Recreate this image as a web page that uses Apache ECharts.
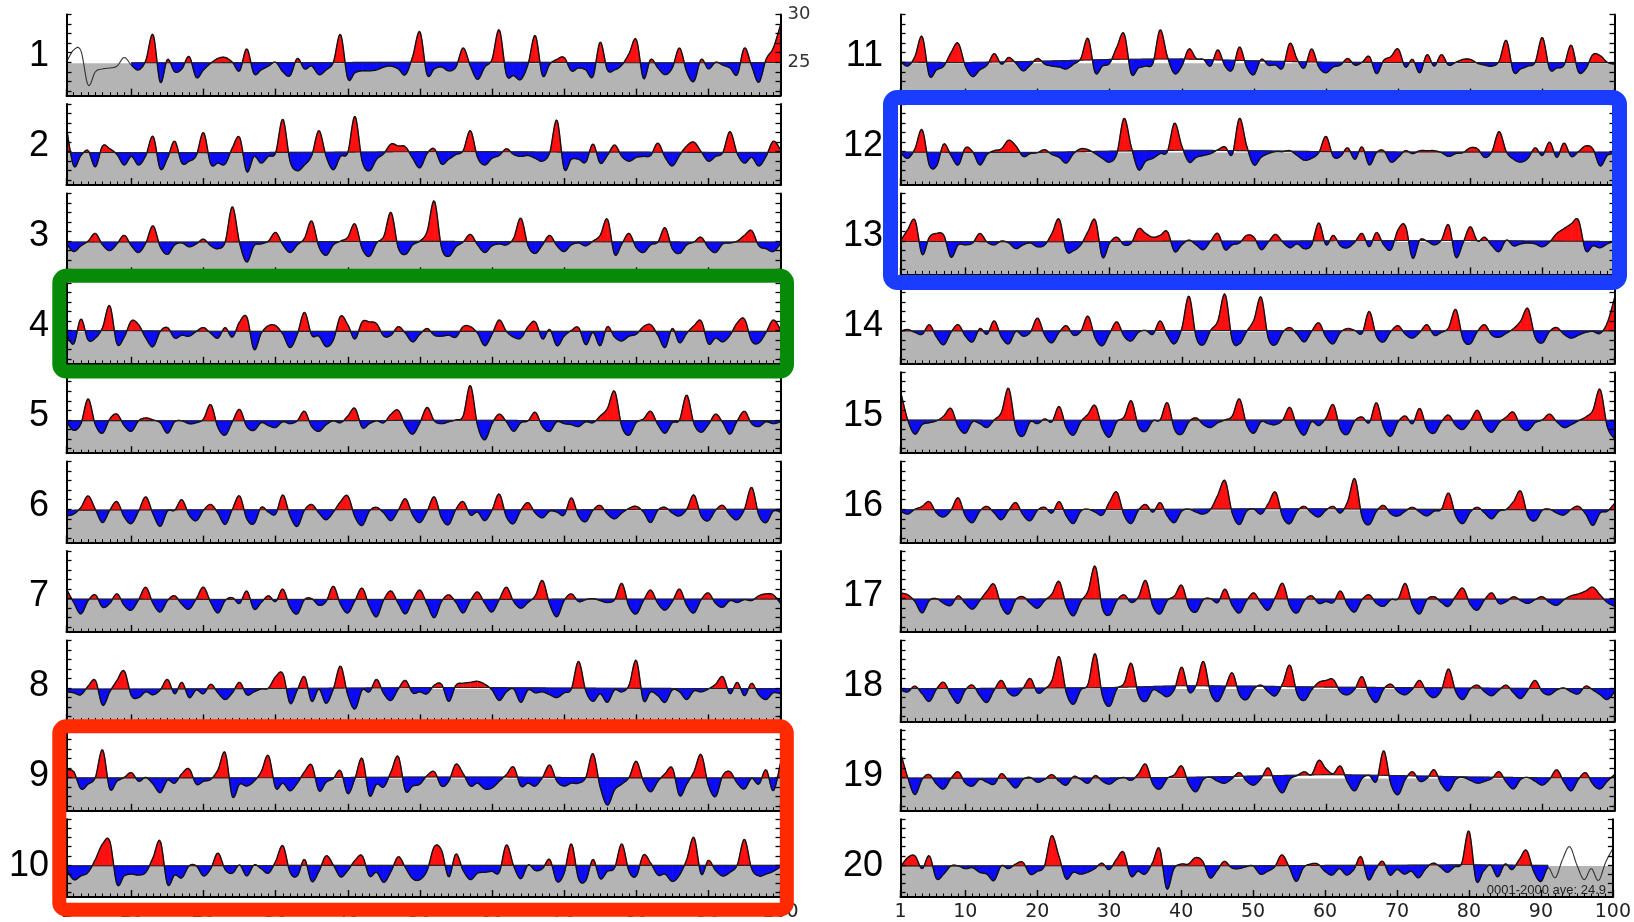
<!DOCTYPE html>
<html><head><meta charset="utf-8">
<script src="https://cdn.jsdelivr.net/npm/echarts@6/dist/echarts.min.js"></script>
<style>html,body{margin:0;padding:0;background:#fff}#c{width:1634px;height:922px}</style>
</head><body><div id="c"></div>
<script>
// ---------------- data ----------------
const YEARS = [1,2,3,4,5,6,7,8,9,10,11,12,13,14,15,16,17,18,19,20,21,22,23,24,25,26,27,28,29,30,31,32,33,34,35,36,37,38,39,40,41,42,43,44,45,46,47,48,49,50,51,52,53,54,55,56,57,58,59,60,61,62,63,64,65,66,67,68,69,70,71,72,73,74,75,76,77,78,79,80,81,82,83,84,85,86,87,88,89,90,91,92,93,94,95,96,97,98,99,100];
const X_TICK_MAJOR = [1,10,20,30,40,50,60,70,80,90,100];
const X_LABELS = [1,10,20,30,40,50,60,70,80,90,100];
const Y_TICKS = [22,23,24,25,26,27,28,29,30];
const Y_LABELS_P1 = [25,30];
const BASE_X = [1,10,20,30,40,50,60,70,80,90,100];
const GRAY_LEVEL = 24.9;
const AVE_TEXT = '0001-2000 ave: 24.9';
const PANEL_NAMES = ['1','2','3','4','5','6','7','8','9','10','11','12','13','14','15','16','17','18','19','20'];
const FILL_FROM = [10,1,1,1,1,1,1,1,1,1,1,1,1,1,1,1,1,1,1,1];
const FILL_TO   = [100,100,100,100,100,100,100,100,100,100,100,100,100,100,100,100,100,100,100,91];

const P1 = [25.0,26.3,26.2,22.6,24.0,24.3,24.4,24.6,25.5,24.7, 24.2,25.2,27.9,22.9,25.3,24.0,24.3,25.6,23.4,24.2, 24.9,25.4,25.5,25.0,24.1,26.4,23.8,24.2,24.6,25.0, 24.0,23.6,25.4,24.3,24.6,23.7,24.2,25.0,27.9,23.3, 23.9,24.1,24.1,24.2,24.5,24.6,24.3,23.7,25.6,28.2, 23.7,24.3,24.5,24.1,24.5,26.5,24.6,23.2,24.5,25.3, 28.4,23.7,23.6,23.2,24.8,27.8,23.6,24.8,25.3,25.5, 24.1,24.4,24.2,23.5,27.1,24.2,24.2,24.7,25.9,27.4, 23.3,25.3,24.4,23.7,24.4,26.5,24.0,23.0,25.3,24.3, 25.0,24.7,24.4,23.7,26.5,24.6,22.9,25.3,26.5,28.9];
const P2 = [27.5,23.5,24.6,25.1,23.4,25.6,25.3,24.7,23.6,24.5, 23.6,24.6,26.6,23.2,24.3,26.1,23.8,24.0,24.6,27.0, 23.7,23.8,23.7,25.4,26.5,22.9,24.5,23.8,24.5,24.9, 28.4,24.0,23.0,23.6,24.6,27.2,24.5,23.1,24.5,24.9, 28.7,24.0,23.0,24.2,24.8,25.8,25.6,25.5,24.3,23.3, 24.8,25.3,23.7,24.2,24.7,25.1,27.2,24.4,23.6,24.3, 24.6,25.3,24.7,24.5,24.6,24.3,24.0,24.9,28.3,23.2, 24.2,24.2,23.9,25.8,23.8,24.6,25.7,24.5,24.0,24.4, 24.5,24.6,25.9,24.4,23.5,24.6,25.6,26.0,25.0,24.0, 24.5,24.9,27.1,24.8,23.8,24.4,23.5,24.5,26.1,25.2];
const P3 = [24.7,23.9,24.5,25.0,25.8,24.6,24.0,24.7,25.6,24.5, 23.8,24.8,26.6,24.4,23.6,24.6,24.8,24.4,24.7,25.2, 24.5,24.2,24.9,28.6,24.8,22.8,24.5,24.7,25.0,25.9, 24.6,23.8,24.6,25.3,27.1,24.4,23.5,24.6,25.0,25.4, 26.8,24.2,23.4,24.8,25.5,28.0,24.3,23.6,24.6,25.0, 26.0,29.2,24.3,23.4,24.4,24.9,25.7,24.6,23.8,24.5, 24.7,24.6,25.3,27.4,24.5,23.7,24.6,25.6,24.5,23.9, 24.6,24.8,24.5,25.0,25.6,27.3,23.6,24.7,25.8,24.3, 23.8,24.6,24.9,26.4,24.2,23.7,24.6,24.9,25.4,24.3, 23.8,24.7,24.8,25.0,25.6,26.1,24.5,24.2,23.9,24.7];
const P4 = [24.6,23.6,26.2,24.0,24.2,25.3,27.6,23.6,24.3,26.0, 25.6,24.2,23.3,24.9,25.3,24.2,24.5,24.4,24.9,25.3, 24.7,24.2,25.3,24.3,25.9,26.4,23.0,24.7,25.5,25.5, 24.6,23.2,24.6,26.9,24.5,24.4,23.3,24.0,26.5,25.6, 24.1,25.9,25.9,25.7,24.4,24.5,25.4,24.7,23.8,24.6, 25.2,24.5,24.4,24.5,24.3,25.4,25.4,24.7,23.4,24.6, 26.1,24.9,24.3,24.2,25.4,25.9,24.1,25.1,23.4,24.4, 25.0,25.3,23.5,24.8,23.4,25.4,24.3,23.9,24.4,24.6, 25.4,25.6,24.5,23.2,25.2,23.7,24.7,25.5,26.0,23.6, 24.2,23.8,24.5,25.8,26.2,23.9,23.7,24.8,26.1,25.1];
const P5 = [24.8,23.9,24.6,27.2,24.5,23.6,25.1,25.6,24.4,23.8, 24.9,25.2,25.0,24.7,23.6,24.8,24.9,24.6,24.7,25.1, 26.6,24.2,23.4,24.8,26.1,24.3,23.9,24.7,24.4,24.2, 24.8,24.6,24.9,25.9,24.3,23.8,24.5,24.9,24.7,25.4, 26.2,24.2,24.6,24.9,24.7,25.6,26.0,24.4,23.5,24.7, 26.3,24.9,24.6,24.8,25.0,25.4,28.6,24.4,22.9,24.6, 25.6,24.8,23.8,24.7,24.9,25.8,24.3,23.8,24.8,24.6, 24.5,24.3,24.8,24.7,25.4,26.2,28.0,24.3,23.4,24.7, 25.1,25.9,24.5,23.6,24.7,25.0,27.6,24.6,23.7,24.5, 25.6,24.7,23.5,24.9,25.9,24.6,24.3,24.8,24.6,24.8];
const P6 = [24.3,24.5,25.2,26.4,25.0,23.6,24.9,25.8,24.2,23.5, 24.8,26.3,24.5,23.2,24.8,24.9,26.0,24.4,23.8,24.9, 25.5,24.6,23.4,25.0,26.4,24.0,23.5,25.2,24.7,24.5, 26.5,24.3,23.2,24.9,25.5,24.6,23.9,24.7,25.8,26.4, 24.2,23.3,24.8,25.2,24.6,23.8,24.9,26.1,24.4,23.6, 24.8,26.3,24.1,23.4,25.0,25.8,24.4,24.7,23.8,24.9, 26.6,24.2,23.5,24.9,25.7,24.6,24.1,24.8,24.7,24.4, 26.2,24.3,23.7,24.9,25.4,24.5,24.0,24.6,25.1,25.3, 24.7,23.6,24.9,25.2,24.6,24.3,25.0,26.5,24.3,23.8, 24.9,25.4,24.4,23.9,25.0,27.3,24.4,23.6,24.8,24.7];
const P7 = [26.0,24.6,23.4,24.8,25.4,24.1,24.5,25.5,24.3,23.8, 24.9,26.2,24.5,23.6,24.8,25.3,24.4,23.9,25.0,26.2, 24.6,23.5,24.8,25.1,24.5,25.8,23.9,24.6,25.3,24.7, 26.0,24.1,23.4,24.9,25.0,24.3,24.7,26.3,24.4,23.5, 24.8,26.1,24.2,23.1,24.9,25.8,24.5,23.4,24.8,25.9, 24.4,23.0,24.7,25.4,24.6,23.5,24.8,25.7,24.5,23.6, 24.9,26.2,24.7,24.0,24.6,25.3,26.9,24.4,23.1,24.8, 25.5,24.7,24.9,25.0,24.8,24.6,24.9,26.6,24.2,23.4, 24.8,25.9,24.5,23.8,24.7,26.0,24.3,23.5,24.9,25.6, 24.5,24.1,24.8,24.6,24.9,24.8,25.3,25.5,25.4,24.5];
const P8 = [24.6,24.5,24.3,25.2,25.8,23.2,24.6,25.8,26.8,24.2, 24.0,24.6,24.3,24.8,25.9,24.4,25.6,24.0,24.8,24.4, 25.4,24.5,23.8,24.5,25.6,24.3,24.6,24.9,25.0,26.2, 26.5,23.4,24.8,26.2,23.6,24.9,23.4,24.9,27.3,24.3, 22.8,24.8,24.6,25.9,24.4,23.7,24.9,25.8,24.5,24.6, 24.4,25.3,25.4,23.6,25.3,25.5,25.6,25.7,25.4,24.8, 23.7,24.6,24.9,23.5,24.8,24.5,24.6,24.3,24.0,24.5, 24.9,27.8,24.7,23.6,24.4,23.5,24.8,24.6,25.3,27.9, 23.7,24.6,24.2,23.5,24.8,24.6,23.8,24.7,24.6,24.9, 25.4,26.2,24.4,25.6,24.2,25.5,24.3,23.8,24.5,24.4];
const P9 = [25.8,25.6,23.8,24.3,25.0,27.9,23.8,24.6,25.0,25.5, 24.6,25.0,24.3,23.4,24.7,24.4,25.4,25.9,24.3,24.6, 24.8,25.8,27.6,23.0,24.3,24.1,24.6,25.6,27.3,23.9, 24.4,23.6,24.4,25.6,26.3,23.6,24.5,24.9,25.7,23.3, 24.9,27.0,23.1,24.3,24.0,25.6,27.2,23.6,24.1,24.3, 25.2,25.6,24.1,24.6,26.4,25.4,24.1,24.4,23.8,23.9, 24.6,25.3,26.1,24.1,24.4,24.1,25.0,26.3,24.6,24.1, 24.4,24.4,25.0,27.5,24.0,22.1,23.7,24.3,25.0,26.7, 24.6,23.5,24.6,25.4,26.0,23.1,24.3,25.6,27.4,24.2, 23.0,25.2,25.6,24.4,23.8,24.9,24.3,25.8,23.6,26.5];
const P10 = [24.5,23.4,23.8,24.2,25.6,27.3,27.6,22.9,23.8,24.0, 23.9,24.2,25.8,27.6,22.9,23.9,23.6,24.9,24.9,23.8, 24.6,26.3,24.5,24.1,25.0,23.8,25.0,24.6,24.1,25.4, 27.1,24.2,23.8,25.6,23.2,24.3,26.0,25.0,23.7,24.4, 25.5,26.0,23.8,24.2,23.1,24.3,25.9,24.7,23.5,23.4, 24.4,27.0,26.6,23.7,26.2,24.4,23.4,24.1,24.2,24.3, 24.2,27.2,24.9,23.5,25.0,24.4,24.6,25.6,23.2,24.1, 27.3,23.5,23.3,25.6,23.5,24.3,24.7,27.3,24.3,23.8, 26.1,25.2,23.9,24.0,23.2,23.9,25.6,28.0,24.0,25.5, 24.4,23.8,24.2,25.0,27.8,24.6,23.8,24.0,24.3,24.8];
const P11 = [25.1,24.6,25.6,27.7,23.6,24.2,24.6,26.0,27.0,24.6, 23.5,24.2,24.7,25.9,24.8,25.5,24.9,24.1,24.7,25.4, 24.8,24.6,24.5,24.3,24.8,25.4,27.5,23.9,24.6,24.9, 26.6,28.0,23.8,24.4,24.6,24.9,28.4,25.6,23.8,24.6, 26.4,25.4,25.3,24.6,26.3,24.6,24.2,26.6,24.5,23.7, 25.3,24.7,24.7,24.4,27.0,25.3,24.4,26.4,24.5,23.9, 24.5,24.7,25.4,24.7,25.0,25.6,23.8,25.2,25.6,26.4, 24.5,25.3,23.9,25.8,24.6,25.8,24.7,25.0,25.3,25.3, 24.9,24.7,24.6,25.1,27.3,24.0,24.3,24.6,25.0,27.6, 24.3,24.4,24.7,26.8,24.0,24.3,25.8,25.7,25.0,24.8];
const P12 = [24.9,24.3,25.3,27.3,23.6,23.5,25.8,24.6,23.6,25.4, 25.0,23.6,24.7,25.1,25.3,26.2,25.6,24.5,24.8,24.9, 25.2,24.7,24.4,23.8,24.8,25.3,25.2,24.8,24.3,23.9, 24.8,28.5,25.5,23.1,24.0,24.3,24.8,25.0,28.0,25.6, 23.9,24.4,24.6,24.8,25.2,25.5,24.7,28.5,25.6,23.6, 24.4,24.8,25.0,25.0,25.1,24.6,24.1,24.3,24.9,26.6, 24.5,24.5,25.4,24.2,25.5,23.6,24.9,25.1,23.9,24.4, 25.1,24.8,25.1,25.1,25.1,24.9,24.5,24.8,24.9,25.4, 25.3,24.4,25.0,27.1,25.0,24.2,23.9,24.3,25.4,24.6, 26.0,24.4,25.9,24.5,25.0,25.6,25.3,23.5,24.6,24.8];
const P13 = [25.0,26.2,27.2,23.6,25.4,25.8,25.6,23.3,24.6,24.6, 24.8,25.8,24.9,24.6,25.0,24.8,24.2,24.6,24.8,24.4, 24.6,25.8,27.3,24.0,24.0,24.6,26.0,27.2,23.3,24.8, 25.4,24.6,24.8,26.3,25.8,25.4,25.6,26.0,23.9,24.6, 25.1,24.6,24.1,25.0,25.8,24.1,24.6,24.8,25.6,25.4, 24.1,24.9,25.7,24.9,24.3,24.7,24.2,24.6,26.9,24.6, 25.6,24.5,24.3,24.9,25.8,24.4,25.9,24.6,24.1,26.2, 26.6,23.2,25.1,25.0,24.6,25.1,26.7,23.3,24.8,26.5, 25.0,25.4,24.5,23.9,25.1,24.5,24.7,24.8,24.7,24.4, 24.9,25.8,26.3,26.8,27.2,24.0,24.5,24.3,24.7,25.0];
const P14 = [24.9,25.1,24.8,24.6,25.6,24.3,23.5,24.8,25.6,24.4, 23.8,25.2,24.6,26.0,24.3,23.6,24.9,24.4,24.8,26.3, 24.5,23.7,24.8,25.5,24.5,24.9,26.5,24.2,23.4,24.7, 25.9,24.4,23.9,24.8,25.0,24.6,26.0,24.5,23.6,25.2, 28.6,24.3,23.5,25.0,26.0,28.8,24.0,23.6,24.9,26.1, 28.5,24.2,23.5,24.8,25.3,24.6,23.8,24.9,25.8,24.3, 23.6,24.8,25.2,25.0,24.7,27.0,24.4,23.8,24.9,25.5, 24.6,24.2,24.8,25.6,24.5,24.8,25.3,27.2,24.1,23.6, 24.9,25.6,24.5,24.3,24.7,25.2,26.0,27.3,24.3,23.7, 24.9,25.3,24.6,24.2,24.5,24.8,24.9,24.7,25.8,28.4];
const P15 = [28.0,25.0,23.5,24.5,24.7,24.9,25.4,26.2,24.3,23.6, 24.8,24.6,24.2,25.0,25.8,28.3,24.1,23.3,24.8,24.6, 25.1,24.8,26.4,24.2,23.4,24.8,25.6,26.5,24.1,23.2, 24.8,25.3,27.0,24.3,23.8,24.9,25.0,26.8,24.0,23.5, 24.8,25.2,24.5,24.2,24.7,25.0,25.4,27.2,24.5,23.6, 24.8,24.6,24.5,25.0,26.3,24.3,23.4,24.8,24.4,25.2, 26.6,24.0,23.5,24.9,25.3,24.7,26.8,24.2,23.3,24.8, 25.4,24.6,26.2,24.1,23.6,24.8,25.5,24.4,24.0,24.9, 26.0,24.4,23.7,24.7,25.3,25.8,24.3,23.9,24.7,25.0, 25.6,24.8,24.2,24.5,24.9,25.3,26.0,28.2,24.3,23.0];
const P16 = [24.8,24.5,25.0,25.3,25.8,24.6,24.2,24.9,26.2,24.3, 23.6,24.8,25.3,24.6,23.9,24.9,25.7,24.4,23.8,24.9, 25.2,24.6,25.8,24.3,23.5,24.8,25.0,24.7,24.4,25.8, 26.8,24.4,23.5,24.9,25.5,24.7,25.7,24.3,23.6,24.8, 25.0,24.7,24.5,25.0,26.5,28.0,24.6,23.4,24.8,25.0, 24.5,25.6,26.8,24.2,23.5,24.8,25.3,24.6,24.2,24.9, 25.3,24.6,25.8,28.2,24.2,23.4,24.8,25.4,24.5,24.3, 24.8,25.2,24.7,24.3,24.8,25.0,26.7,24.3,23.5,24.7, 25.2,24.6,24.0,24.8,25.0,25.8,26.9,24.3,23.8,24.9, 25.0,24.6,24.4,25.0,25.3,24.5,23.3,24.6,24.8,25.6];
const P17 = [25.6,25.4,24.7,23.5,24.8,25.0,24.5,24.3,25.3,24.5, 23.9,24.8,25.8,26.5,24.2,23.4,24.9,25.2,24.5,24.0, 24.8,25.5,26.8,24.3,23.2,24.7,25.8,28.4,24.0,23.3, 24.8,25.4,24.6,25.2,26.9,24.2,23.4,24.8,25.3,26.4, 24.1,23.6,24.9,25.0,24.6,26.0,24.3,23.5,24.8,25.6, 24.5,23.8,25.2,26.6,24.2,23.5,24.8,25.3,24.5,24.7, 24.6,25.8,24.3,23.6,24.9,25.4,24.5,24.2,24.9,25.0, 26.6,24.3,23.4,24.9,25.2,24.6,24.2,25.3,26.1,24.4, 23.8,24.9,25.6,24.5,24.7,25.2,24.8,24.5,24.9,25.2, 24.6,24.3,24.9,25.3,25.5,25.8,26.2,25.4,24.6,24.2];
const P18 = [24.8,24.6,25.2,24.4,23.6,24.9,25.6,24.3,23.4,24.8, 25.3,24.2,23.5,24.8,25.8,24.5,24.2,25.0,26.0,24.5, 24.9,25.8,28.3,24.5,23.3,24.8,25.4,28.6,24.2,23.1, 24.9,25.5,27.6,24.3,23.6,24.8,24.5,24.1,24.9,27.2, 24.6,25.3,27.8,24.5,23.6,25.0,26.6,24.3,23.8,24.9, 25.3,24.6,24.2,25.5,27.4,24.4,23.7,24.8,25.6,25.8, 25.9,24.6,24.3,24.9,26.2,24.3,23.5,24.9,25.4,24.6, 24.3,24.9,25.8,24.5,24.0,24.8,27.0,24.6,23.8,24.9, 25.3,24.6,24.2,24.8,25.3,24.5,23.9,24.8,25.8,24.6, 24.3,24.8,25.0,24.6,24.4,25.2,24.8,24.3,23.8,24.6];
const P19 = [27.6,25.0,23.2,24.8,25.3,24.3,23.8,24.9,25.6,24.4, 24.1,24.8,24.5,24.3,25.4,24.6,23.9,24.8,25.0,24.5, 24.8,25.3,24.6,24.2,25.1,24.8,24.4,25.2,24.6,24.3, 24.8,25.0,24.7,25.4,26.4,24.3,23.8,24.9,25.3,26.2, 24.3,23.5,24.8,25.0,24.6,24.4,24.9,25.5,24.6,24.2, 24.9,26.0,24.3,23.4,24.8,25.2,25.6,25.3,26.8,25.9, 25.4,26.2,24.5,23.6,24.9,25.2,24.6,27.8,24.3,23.2, 24.8,25.6,24.6,24.9,25.8,24.3,23.6,24.8,25.0,24.7, 24.4,24.6,24.9,25.6,24.5,23.8,24.8,25.0,24.6,24.2, 24.8,25.8,24.5,23.6,24.8,25.5,24.3,23.8,24.6,25.3];
const P20 = [24.8,25.8,26.0,24.6,26.0,23.5,24.0,24.9,24.9,24.6, 24.7,24.2,24.0,23.3,24.9,24.6,25.1,25.3,24.0,24.3, 24.9,28.2,26.0,23.5,24.2,24.0,24.2,24.6,25.2,24.5, 25.6,26.4,23.8,24.3,24.0,25.2,26.8,22.4,24.6,25.1, 25.1,25.8,25.4,23.6,24.4,25.4,24.7,24.6,24.8,24.9, 24.0,24.3,24.8,26.1,24.8,23.2,24.7,25.1,25.1,24.3, 23.9,24.6,23.9,24.5,25.9,23.4,24.5,25.4,23.9,24.5, 24.0,24.3,23.6,24.6,25.2,24.8,24.2,24.8,25.2,28.7, 23.3,24.3,25.0,23.7,25.1,24.5,25.6,26.6,24.3,23.2, 24.7,23.6,25.6,27.0,25.0,23.4,24.6,23.3,25.3,26.8];

// baseline (long-term mean) read at BASE_X
const B1  = [24.95,24.95,24.95,24.97,24.98,25.0,25.0,24.98,24.95,24.95,24.97];
const B2  = [24.92,24.9,24.9,24.92,24.95,25.0,25.0,24.95,24.95,24.92,24.92];
const B3  = [24.9,24.9,24.9,24.92,24.95,24.97,24.95,24.92,24.92,24.9,24.9];
const B4  = [25.0,24.97,24.92,24.9,24.9,24.9,24.9,24.9,24.9,24.9,24.9];
const B5  = [24.92,24.92,24.9,24.9,24.92,24.95,24.95,24.92,24.92,24.92,24.92];
const B6  = [24.9,24.92,24.95,24.95,24.95,24.95,24.95,24.95,24.97,25.0,25.0];
const B7  = [24.95,24.95,24.92,24.92,24.92,24.92,24.92,24.95,24.95,24.95,24.95];
const B8  = [24.9,24.9,24.92,24.95,25.0,25.05,25.05,25.0,24.97,24.95,24.95];
const B9  = [24.95,24.95,24.95,24.97,25.0,25.05,25.05,25.0,24.95,24.95,24.95];
const B10 = [24.92,24.92,24.92,24.95,24.95,24.95,24.95,24.95,24.95,24.95,24.95];
const B11 = [25.0,24.97,25.1,25.3,25.35,25.15,25.0,24.97,24.97,24.97,24.97];
const B12 = [24.95,24.92,24.92,25.05,25.15,25.1,25.0,24.97,24.95,24.95,24.95];
const B13 = [24.95,24.95,24.92,24.95,25.0,25.0,25.02,25.05,25.05,25.0,24.95];
const B14 = [24.95,24.95,24.95,24.97,25.0,25.0,24.97,24.97,24.97,24.97,24.95];
const B15 = [24.97,24.97,24.95,24.95,24.97,24.97,24.97,24.95,24.95,24.95,24.95];
const B16 = [24.95,24.95,24.97,24.97,25.0,25.05,25.05,25.0,24.97,24.95,24.95];
const B17 = [24.95,24.95,24.97,24.97,24.97,24.97,24.95,24.95,24.95,24.95,24.95];
const B18 = [24.95,24.95,25.0,25.05,25.25,25.2,25.1,25.05,25.0,24.95,24.95];
const B19 = [24.95,24.92,24.92,24.95,25.0,25.15,25.3,25.2,25.05,24.97,24.97];
const B20 = [24.9,24.9,24.92,24.92,24.92,24.92,24.95,24.97,25.02,24.95,24.95];

const PANELS = [P1,P2,P3,P4,P5,P6,P7,P8,P9,P10,P11,P12,P13,P14,P15,P16,P17,P18,P19,P20];
const BASES = [B1,B2,B3,B4,B5,B6,B7,B8,B9,B10,B11,B12,B13,B14,B15,B16,B17,B18,B19,B20];

// ---------------- layout / style ----------------
const COL_LEFT = [66.5, 900.5];
const GRID_W = 714;
const TOP0 = 14.6, STEP = 89.4, GRID_H = 81;
const RED = '#ff1010', BLUE = '#0b0bf5', GRAY = '#b4b4b4';
const FONT = 'Liberation Sans, Arial, sans-serif';
const AXFONT = 'DejaVu Sans, Liberation Sans, sans-serif';

function cr(a,b,c,d,t){return 0.5*((2*b)+(-a+c)*t+(2*a-5*b+4*c-d)*t*t+(-a+3*b-3*c+d)*t*t*t);}
const NS = 10;
function samples(vals, i, api){
  const n = vals.length;
  const c = k => { const kk = Math.max(0, Math.min(n-1, k)); return api.coord([YEARS[kk], vals[kk]]); };
  const p0=c(i-1), p1=c(i), p2=c(i+1), p3=c(i+2);
  const out=[];
  for(let s=0;s<=NS;s++){const t=s/NS; out.push([cr(p0[0],p1[0],p2[0],p3[0],t), cr(p0[1],p1[1],p2[1],p3[1],t)]);}
  return out;
}
function baseY(bp, x){
  for(let j=0;j<bp.length-1;j++){
    if(x<=bp[j+1][0] || j===bp.length-2){const a=bp[j],b=bp[j+1];const t=(x-a[0])/(b[0]-a[0]);return a[1]+t*(b[1]-a[1]);}
  }
}
function makeFill(vals, base){
  return function(params, api){
    const i = api.value(2);
    const pts = samples(vals, i, api);
    const bp = BASE_X.map((x,j)=>api.coord([x, base[j]]));
    const children=[]; let run=[], sign=0, prev=null;
    const flush=()=>{
      if(run.length>1 && sign!==0){
        const poly = run.map(r=>[r[0],r[1]]).concat(run.slice().reverse().map(r=>[r[0],r[2]]));
        const col = sign>0?RED:BLUE;
        children.push({type:'polygon', shape:{points:poly}, style:{fill:col, stroke:col, lineWidth:0.7}});
      }
    };
    for(const p of pts){
      const yb = baseY(bp, p[0]);
      const d = yb - p[1];
      const s = d>0?1:(d<0?-1:0);
      if(prev && s!==0 && sign!==0 && s!==sign){
        const t = prev.d/(prev.d-d);
        const cx = prev.x + t*(p[0]-prev.x);
        const cy = prev.yb + t*(yb-prev.yb);
        run.push([cx,cy,cy]); flush(); run=[[cx,cy,cy]];
      }
      if(s!==0) sign = s;
      run.push([p[0],p[1],yb]);
      prev={x:p[0],d:d,yb:yb};
    }
    flush();
    return {type:'group', children};
  };
}
function makeLine(vals, base, from, to){
  return function(params, api){
    const i = api.value(2);
    const pts = samples(vals, i, api);
    const inFill = (i+1)>=from && (i+2)<=to;
    const children=[{type:'polyline', shape:{points:pts}, style:{stroke: inFill?'#111':'#333', lineWidth: inFill?1.4:1.1, fill:null}}];
    if(inFill){
      const bp = BASE_X.map((x,j)=>api.coord([x, base[j]]));
      children.push({type:'polyline', shape:{points:pts.map(p=>[p[0], baseY(bp,p[0])])}, style:{stroke:'#222', lineWidth:1.1, fill:null}});
    }
    return {type:'group', children};
  };
}

const grid=[], xAxis=[], yAxis=[], series=[], graphic=[];
for(let p=0;p<20;p++){
  const col = p<10?0:1, row = p%10;
  const top = TOP0 + row*STEP;
  grid.push({left: COL_LEFT[col], top: top, width: GRID_W, height: GRID_H, containLabel:false});
  const lastRow = row===9;
  xAxis.push({type:'value', gridIndex:p, min:1, max:100, position:'bottom', z:10,
    axisLine:{show:true, onZero:false, lineStyle:{color:'#000', width:2}},
    axisTick:{show:true, inside:true, length:7, customValues:X_TICK_MAJOR, lineStyle:{color:'#000', width:1.4}},
    axisLabel:{show:lastRow, customValues:X_LABELS, fontSize:19, color:'#222', margin:6, fontFamily:AXFONT},
    splitLine:{show:false}});
  xAxis.push({type:'value', gridIndex:p, min:1, max:100, position:'bottom', z:10,
    axisLine:{show:false, onZero:false},
    axisTick:{show:true, inside:true, length:3.5, customValues:YEARS, lineStyle:{color:'#000', width:1}},
    axisLabel:{show:false}, splitLine:{show:false}});
  yAxis.push({type:'value', gridIndex:p, min:21.5, max:30, position:'left', z:10,
    axisLine:{show:true, onZero:false, lineStyle:{color:'#000', width:2}},
    axisTick:{show:true, inside:true, length:5, customValues:Y_TICKS, lineStyle:{color:'#000', width:1.3}},
    axisLabel:{show:false}, splitLine:{show:false}});
  yAxis.push({type:'value', gridIndex:p, min:21.5, max:30, position:'right', z:10,
    axisLine:{show:true, onZero:false, lineStyle:{color:'#000', width:2}},
    axisTick:{show:true, inside:true, length:5, customValues:Y_TICKS, lineStyle:{color:'#000', width:1.3}},
    axisLabel:{show:p===0, customValues:Y_LABELS_P1, fontSize:18, color:'#333', margin:7, fontFamily:AXFONT},
    splitLine:{show:false}});
  const xa = 2*p, ya = 2*p;
  const vals = PANELS[p], base = BASES[p];
  series.push({type:'line', xAxisIndex:xa, yAxisIndex:ya, data:[[1,GRAY_LEVEL],[100,GRAY_LEVEL]],
    showSymbol:false, symbol:'none', lineStyle:{width:0}, areaStyle:{color:GRAY, opacity:1, origin:'start'}, silent:true, z:1, animation:false});
  const from = FILL_FROM[p], to = FILL_TO[p];
  const fillData=[], lineData=[];
  for(let i=0;i<vals.length-1;i++){
    lineData.push([YEARS[i], vals[i], i]);
    if(YEARS[i]>=from && YEARS[i+1]<=to) fillData.push([YEARS[i], vals[i], i]);
  }
  series.push({type:'custom', xAxisIndex:xa, yAxisIndex:ya, data:fillData, renderItem:makeFill(vals, base), encode:{x:0,y:1}, clip:true, silent:true, z:2, animation:false});
  series.push({type:'custom', xAxisIndex:xa, yAxisIndex:ya, data:lineData, renderItem:makeLine(vals, base, from, to), encode:{x:0,y:1}, clip:true, silent:true, z:3, animation:false});
  graphic.push({type:'text', z:10, style:{text:PANEL_NAMES[p], x: col===0?49:883, y: top + 41 + row*0.6, align:'right', verticalAlign:'middle', fontSize:36, fontFamily:FONT, fill:'#000'}});
}
graphic.push({type:'text', z:10, style:{text:AVE_TEXT, x:1606, y:890.5, align:'right', verticalAlign:'middle', fontSize:13, fontFamily:FONT, fill:'#222'}});
// annotation frames
graphic.push({type:'rect', z:20, shape:{x:59.3, y:275.8, width:727.7, height:95.8, r:7}, style:{fill:'none', stroke:'#078a07', lineWidth:14}});
graphic.push({type:'rect', z:20, shape:{x:59.3, y:726.3, width:727.5, height:183.4, r:7}, style:{fill:'none', stroke:'#ff2a00', lineWidth:14}});
graphic.push({type:'rect', z:20, shape:{x:890.5, y:97.5, width:729, height:185, r:7}, style:{fill:'none', stroke:'#1a3cff', lineWidth:15}});

const chart = echarts.init(document.getElementById('c'), null, {renderer:'canvas'});
chart.setOption({animation:false, backgroundColor:'#fff', grid, xAxis, yAxis, series, graphic});
</script>
</body></html>
